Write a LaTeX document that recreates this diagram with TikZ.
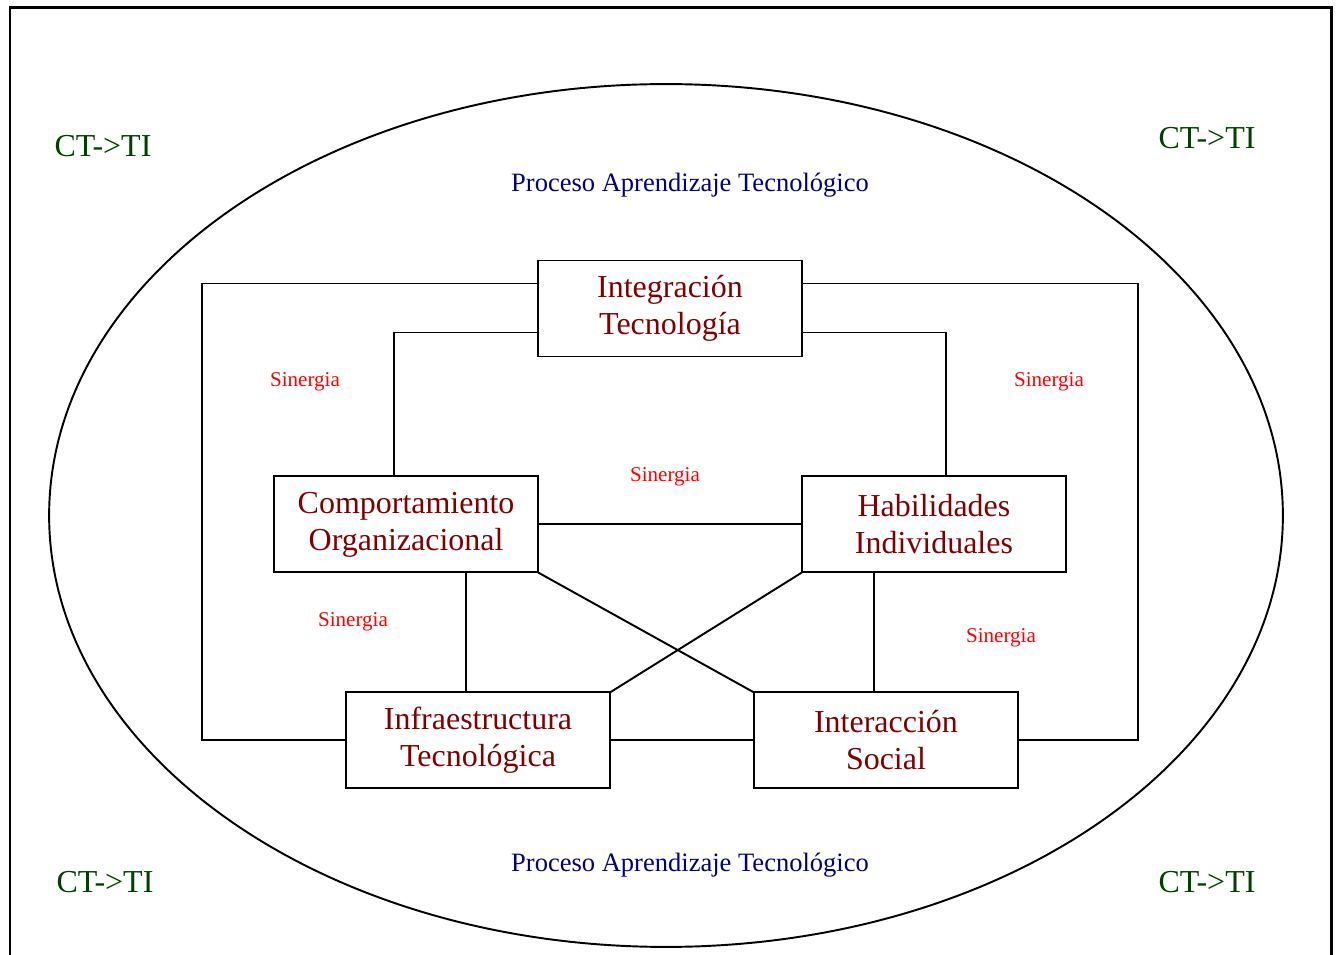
\documentclass[tikz,border=0pt]{standalone}
\usepackage{fontspec}
\setmainfont{Liberation Serif}
\usepackage{xcolor}
\usepackage{tikz}
\usetikzlibrary{positioning, calc}
\definecolor{areatext}{RGB}{128, 0, 0}
\definecolor{synergy}{RGB}{255, 0, 0}
\definecolor{process}{RGB}{0, 0, 128}
\definecolor{ctgreen}{RGB}{0, 64, 0}
\tikzset{
  areablock/.style={
    rectangle, draw=black, line width=1.1pt, fill=white,
    minimum width=5.28cm, minimum height=1.92cm, inner sep=0pt, outer sep=0pt,
    align=center, text=areatext, font=\fontsize{18.2}{21}\selectfont
  },
  linkline/.style={draw=black, line width=1.1pt},
  synlabel/.style={text=synergy, inner sep=0pt, font=\fontsize{12}{14}\selectfont},
  proclabel/.style={text=process, inner sep=0pt, font=\fontsize{15.1}{18}\selectfont},
  ctlabel/.style={text=ctgreen, inner sep=0pt, font=\fontsize{18.2}{21}\selectfont}
}

\begin{document}
\begin{tikzpicture}[x=0.02cm, y=-0.02cm]

  \useasboundingbox (0,0) rectangle (1338,955);

  % Outer frame (open at the bottom) and learning process ellipse
  \draw[line width=1.7pt] (10,955) -- (10,8) -- (1331,8) -- (1331,955);
  \draw[line width=1.1pt] (666,515.5) ellipse [x radius=12.34cm, y radius=8.63cm];

  % Process and CT->TI labels
  \node[proclabel] (proc_top) at (690,185) {Proceso Aprendizaje Tecnológico};
  \node[proclabel] (proc_bot) at (690,865) {Proceso Aprendizaje Tecnológico};
  \node[ctlabel] (ct_nw) at (103,146) {CT->TI};
  \node[ctlabel] (ct_ne) at (1207,138) {CT->TI};
  \node[ctlabel] (ct_sw) at (105,882) {CT->TI};
  \node[ctlabel] (ct_se) at (1207,882) {CT->TI};

  % Areas
  \node[areablock] (integ) at (670,308.5) {Integración\\Tecnología};
  \node[areablock, below left=2.4cm and 0cm of integ.south west] (comp) {Comportamiento\\Organizacional};
  \node[areablock, below right=2.4cm and 0cm of integ.south east] (habil) {Habilidades\\Individuales};
  \node[areablock, below=2.4cm of comp, xshift=1.44cm] (infra) {Infraestructura\\Tecnológica};
  \node[areablock, below=2.4cm of habil, xshift=-0.96cm] (inter) {Interacción\\Social};

  % Outer loop
  \draw[linkline] ([yshift=-0.46cm]integ.north west) -| ([xshift=-2.88cm]infra.west) -- (infra.west);
  \draw[linkline] ([yshift=-0.46cm]integ.north east) -| ([xshift=2.4cm]inter.east) -- (inter.east);

  % Inner links
  \draw[linkline] ([yshift=0.48cm]integ.south west) -| ([xshift=-0.24cm]comp.north);
  \draw[linkline] ([yshift=0.48cm]integ.south east) -| ([xshift=0.24cm]habil.north);
  \draw[linkline] (comp) -- (habil);
  \draw[linkline] ([xshift=-0.24cm]infra.north) -- ([xshift=-0.24cm]infra.north |- comp.south);
  \draw[linkline] ([xshift=-0.24cm]inter.north) -- ([xshift=-0.24cm]inter.north |- habil.south);
  \draw[linkline] (comp.south east) -- (inter.north west);
  \draw[linkline] (habil.south west) -- (infra.north east);
  \draw[linkline] (infra) -- (inter);

  % Synergy labels
  \node[synlabel] (syn_l) at (305,382) {Sinergia};
  \node[synlabel] (syn_r) at (1049,382) {Sinergia};
  \node[synlabel] (syn_c) at (665,477) {Sinergia};
  \node[synlabel] (syn_bl) at (353,622) {Sinergia};
  \node[synlabel] (syn_br) at (1001,638) {Sinergia};

\end{tikzpicture}
\end{document}
